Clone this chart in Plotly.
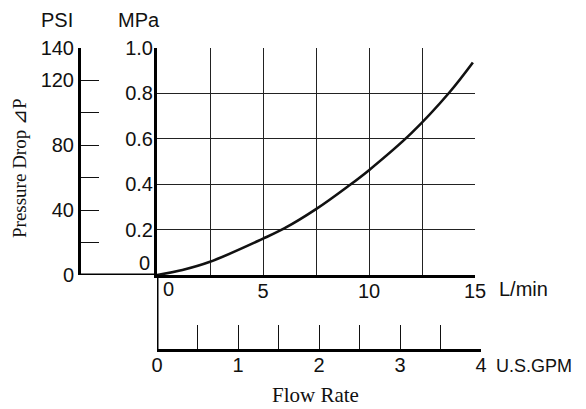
import plotly.graph_objs as go

# the page body adds an 8px margin, so the figure is a bit smaller and offset
OFF = 8
W, H = 586 - OFF, 409 - OFF

# pressure drop curve: flow (L/min) -> dP (MPa)
flow_lpm = [0, 1.2, 2.5, 5, 6, 7.5, 9, 10, 12, 13.8, 14.9]
dp_mpa = [0, 0.022, 0.058, 0.16, 0.205, 0.29, 0.39, 0.462, 0.625, 0.805, 0.936]

lpm_ticks = [0, 2.5, 5, 7.5, 10, 12.5, 15]
lpm_labels = ['', '', '5', '', '10', '', '15']
mpa_ticks = [0, 0.2, 0.4, 0.6, 0.8, 1.0]
mpa_labels = ['', '0.2', '0.4', '0.6', '0.8', '1.0']
psi_ticks = [0, 20, 40, 60, 80, 100, 120, 140]
psi_labels = ['0', '', '40', '', '80', '', '120', '140']
gpm_ticks = [0, 0.5, 1, 1.5, 2, 2.5, 3, 3.5, 4]
gpm_labels = ['0', '', '1', '', '2', '', '3', '', '4']

SANS = 'Liberation Sans, Arial, sans-serif'
SERIF = 'Liberation Serif, Times New Roman, serif'
FS = 20


def px(x):
    # screen pixel -> paper fraction
    return (x - OFF) / W


def py(y):
    return 1 - (y - OFF) / H


fig = go.Figure()
fig.add_trace(go.Scatter(x=flow_lpm, y=dp_mpa, mode='lines',
                         line=dict(color='#111', width=2.6, shape='spline', smoothing=1.0),
                         hoverinfo='skip'))
# dummy trace so the PSI / GPM axes get drawn
fig.add_trace(go.Scatter(x=[None], y=[None], xaxis='x2', yaxis='y2', showlegend=False))

tf = dict(family=SANS, size=FS, color='#111')
fig['layout']['xaxis'] = dict(
    domain=[px(157), px(475)], range=[0, 15], anchor='y', automargin=False,
    tickvals=lpm_ticks, ticktext=lpm_labels, ticks='',
    showgrid=True, gridcolor='#222', gridwidth=1, zeroline=False,
    showline=True, linecolor='black', linewidth=3,
    tickfont=tf, ticklabelstandoff=-4)
fig['layout']['yaxis'] = dict(
    domain=[py(275), py(48)], range=[0, 1.0], anchor='x', automargin=False,
    tickvals=mpa_ticks, ticktext=mpa_labels, ticks='',
    showgrid=True, gridcolor='#222', gridwidth=1, zeroline=False,
    showline=True, linecolor='black', linewidth=3,
    tickfont=tf, ticklabelstandoff=-3)
fig['layout']['yaxis2'] = dict(
    overlaying='y', anchor='free', position=px(79), side='left', automargin=False,
    range=[0, 140], tickvals=psi_ticks, ticktext=psi_labels,
    ticks='inside', ticklen=18, tickwidth=1, tickcolor='#111',
    showgrid=False, zeroline=False,
    showline=True, linecolor='black', linewidth=3,
    tickfont=tf, ticklabelstandoff=0)
fig['layout']['xaxis2'] = dict(
    domain=[px(157), px(481)], range=[0, 4], anchor='free', position=py(350),
    side='bottom', automargin=False, tickvals=gpm_ticks, ticktext=gpm_labels,
    ticks='inside', ticklen=24, tickwidth=1, tickcolor='#111',
    showgrid=False, zeroline=False,
    showline=True, linecolor='black', linewidth=3,
    tickfont=tf, ticklabelstandoff=-4)

# extra axis pieces: bottom line back to the PSI axis, and the drop to the GPM scale
fig.add_shape(type='line', xref='paper', yref='y', x0=px(79), x1=px(157), y0=0, y1=0,
              line=dict(color='black', width=3))
fig.add_shape(type='line', xref='x', yref='paper', x0=0, x1=0, y0=py(350), y1=py(274),
              line=dict(color='black', width=3))

notes = [
    dict(x=px(168), y=py(289), text='0', xanchor='center'),
    dict(x=px(152), y=py(263), text='0', xanchor='right'),
    dict(x=px(497), y=py(289), text='L/min', xanchor='left'),
    dict(x=px(57), y=py(20), text='PSI', xanchor='center'),
    dict(x=px(139), y=py(20), text='MPa', xanchor='center'),
]
for n in notes:
    fig.add_annotation(xref='paper', yref='paper', yanchor='middle', showarrow=False,
                       font=tf, **n)
fig.add_annotation(xref='paper', yref='paper', x=px(494), y=py(366), text='U.S.GPM',
                   xanchor='left', yanchor='middle', showarrow=False,
                   font=dict(family=SANS, size=18, color='#111'))
fig.add_annotation(xref='paper', yref='paper', x=px(315), y=py(395), text='Flow Rate',
                   xanchor='center', yanchor='middle', showarrow=False,
                   font=dict(family=SERIF, size=21, color='#111'))
fig.add_annotation(xref='paper', yref='paper', x=px(19), y=py(168), text='Pressure Drop ⊿P',
                   xanchor='center', yanchor='middle', textangle=-90, showarrow=False,
                   font=dict(family=SERIF, size=19, color='#111'))

fig['layout']['width'] = W
fig['layout']['height'] = H
fig['layout']['margin'] = dict(l=0, r=0, t=0, b=0, autoexpand=False)
fig['layout']['showlegend'] = False
fig['layout']['plot_bgcolor'] = 'rgba(0,0,0,0)'
fig['layout']['paper_bgcolor'] = 'white'
fig.write_html('out.html')
